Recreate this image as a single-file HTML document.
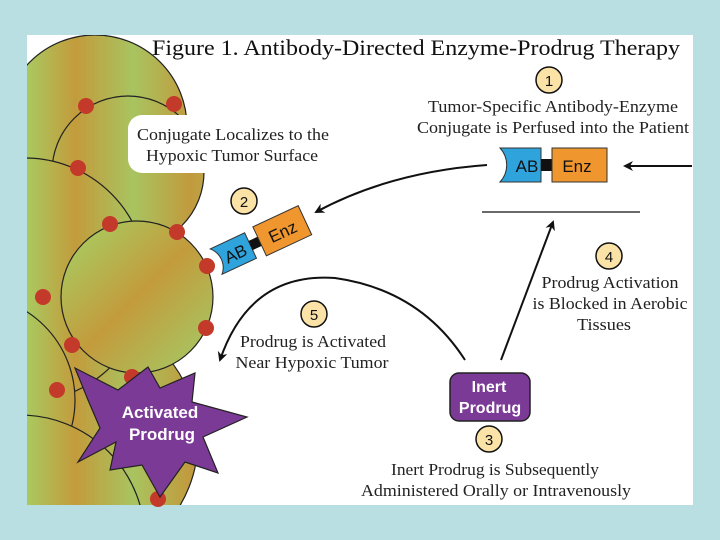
<!DOCTYPE html>
<html><head><style>
html,body{margin:0;width:720px;height:540px;background:#b9dfe3;overflow:hidden}
svg{display:block;overflow:hidden}
.t{font-family:"Liberation Serif",serif;font-size:17px;fill:#222}
.s{font-family:"Liberation Sans",sans-serif;font-weight:bold;fill:#fff}
</style></head><body>
<svg width="720" height="540" viewBox="0 0 720 540">
<defs>
<linearGradient id="g" gradientUnits="userSpaceOnUse" x1="27" y1="0" x2="220" y2="0">
<stop offset="0" stop-color="#a9c95f"/><stop offset="0.25" stop-color="#c39b3c"/><stop offset="0.55" stop-color="#a8c460"/><stop offset="0.85" stop-color="#c29a3d"/><stop offset="1" stop-color="#b5b050"/>
</linearGradient>
<linearGradient id="g2" x1="0" y1="0" x2="1" y2="1">
<stop offset="0.1" stop-color="#a9c95f"/><stop offset="0.5" stop-color="#c39b3c"/><stop offset="0.9" stop-color="#a8c460"/>
</linearGradient>
<marker id="a" markerWidth="10" markerHeight="10" refX="8" refY="5" orient="auto" markerUnits="userSpaceOnUse"><path d="M0,0 L10,5 L0,10 L3,5z" fill="#111"/></marker>
<clipPath id="c"><rect x="27" y="35" width="666" height="470"/></clipPath>
</defs>
<rect x="27" y="35" width="666" height="470" fill="#fff"/>
<g clip-path="url(#c)" stroke="#222" stroke-width="1.2">
<circle cx="70" cy="440" r="128" fill="url(#g)"/>
<circle cx="95" cy="127" r="92" fill="url(#g)"/>
<circle cx="128" cy="172" r="76" fill="url(#g)"/>
<circle cx="25" cy="280" r="122" fill="url(#g)"/>
<circle cx="-30" cy="400" r="105" fill="url(#g)"/>
<circle cx="20" cy="540" r="125" fill="url(#g)"/>
<circle cx="137" cy="297" r="76" fill="url(#g2)"/>
</g>
<g fill="#c33a2a">
<circle cx="86" cy="106" r="8"/><circle cx="174" cy="104" r="8"/><circle cx="78" cy="168" r="8"/>
<circle cx="110" cy="224" r="8"/><circle cx="177" cy="232" r="8"/><circle cx="207" cy="266" r="8"/>
<circle cx="43" cy="297" r="8"/><circle cx="206" cy="328" r="8"/><circle cx="72" cy="345" r="8"/>
<circle cx="132" cy="377" r="8"/>
<circle cx="57" cy="390" r="8"/><circle cx="158" cy="499" r="8"/>
</g>
<path d="M75,368 L118,390 L148,367 L160,388 L195,373 L192,402 L247,417 L203,437 L218,473 L185,462 L160,497 L142,465 L110,470 L116,442 L78,462 L100,428 L88,400 Z" fill="#7b3a96" stroke="#222" stroke-width="1.2"/>
<text class="s" x="160" y="418" font-size="17" text-anchor="middle">Activated</text>
<text class="s" x="162" y="440" font-size="17" text-anchor="middle">Prodrug</text>
<rect x="128" y="115" width="210" height="58" rx="14" fill="#fff"/>
<text class="t" x="233" y="140" text-anchor="middle" textLength="192" lengthAdjust="spacingAndGlyphs">Conjugate Localizes to the</text>
<text class="t" x="232" y="161" text-anchor="middle" textLength="172" lengthAdjust="spacingAndGlyphs">Hypoxic Tumor Surface</text>
<text x="416" y="55" font-family="Liberation Serif,serif" font-size="22" fill="#111" text-anchor="middle" textLength="528" lengthAdjust="spacingAndGlyphs">Figure 1. Antibody-Directed Enzyme-Prodrug Therapy</text>
<g font-family="Liberation Sans,sans-serif" font-size="15" text-anchor="middle" fill="#111">
<circle cx="549" cy="80" r="13" fill="#fbe3a8" stroke="#111" stroke-width="1.5"/><text x="549" y="86">1</text>
<circle cx="244" cy="201" r="13" fill="#fbe3a8" stroke="#111" stroke-width="1.5"/><text x="244" y="207">2</text>
<circle cx="609" cy="256" r="13" fill="#fbe3a8" stroke="#111" stroke-width="1.5"/><text x="609" y="262">4</text>
<circle cx="314" cy="314" r="13" fill="#fbe3a8" stroke="#111" stroke-width="1.5"/><text x="314" y="320">5</text>
<circle cx="489" cy="439" r="13" fill="#fbe3a8" stroke="#111" stroke-width="1.5"/><text x="489" y="445">3</text>
</g>
<text class="t" x="553" y="112" text-anchor="middle" textLength="250" lengthAdjust="spacingAndGlyphs">Tumor-Specific Antibody-Enzyme</text>
<text class="t" x="553" y="133" text-anchor="middle" textLength="272" lengthAdjust="spacingAndGlyphs">Conjugate is Perfused into the Patient</text>
<text class="t" x="610" y="288" text-anchor="middle" textLength="137" lengthAdjust="spacingAndGlyphs">Prodrug Activation</text>
<text class="t" x="610" y="309" text-anchor="middle" textLength="155" lengthAdjust="spacingAndGlyphs">is Blocked in Aerobic</text>
<text class="t" x="604" y="330" text-anchor="middle" textLength="54" lengthAdjust="spacingAndGlyphs">Tissues</text>
<text class="t" x="313" y="347" text-anchor="middle" textLength="146" lengthAdjust="spacingAndGlyphs">Prodrug is Activated</text>
<text class="t" x="312" y="368" text-anchor="middle" textLength="153" lengthAdjust="spacingAndGlyphs">Near Hypoxic Tumor</text>
<text class="t" x="495" y="475" text-anchor="middle" textLength="208" lengthAdjust="spacingAndGlyphs">Inert Prodrug is Subsequently</text>
<text class="t" x="496" y="496" text-anchor="middle" textLength="270" lengthAdjust="spacingAndGlyphs">Administered Orally or Intravenously</text>
<path d="M500,148 H541 V182 H500 A25,25 0 0 0 500,148Z" fill="#2ea3dc" stroke="#333"/>
<rect x="541" y="159" width="11" height="12" fill="#111"/>
<rect x="552" y="148" width="55" height="34" fill="#f0962e" stroke="#333"/>
<text x="527" y="172" font-family="Liberation Sans,sans-serif" font-size="17" fill="#111" text-anchor="middle">AB</text>
<text x="577" y="172" font-family="Liberation Sans,sans-serif" font-size="17" fill="#111" text-anchor="middle">Enz</text>
<g transform="translate(256,243) rotate(-25)">
<path d="M-44,-14 H-6 V14 H-44 A20,20 0 0 0 -44,-14Z" fill="#2ea3dc" stroke="#333"/>
<rect x="-6" y="-5" width="10" height="10" fill="#111"/>
<rect x="4" y="-16" width="50" height="32" fill="#f0962e" stroke="#333"/>
<text x="-23" y="7" font-family="Liberation Sans,sans-serif" font-size="17" fill="#111" text-anchor="middle">AB</text>
<text x="29" y="7" font-family="Liberation Sans,sans-serif" font-size="17" fill="#111" text-anchor="middle">Enz</text>
</g>
<line x1="482" y1="212" x2="640" y2="212" stroke="#111" stroke-width="1.2"/>
<g fill="none" stroke="#111" stroke-width="2">
<line x1="692" y1="166" x2="625" y2="166" marker-end="url(#a)"/>
<path d="M487,165 Q390,172 316,212" marker-end="url(#a)"/>
<path d="M501,360 L553,222" marker-end="url(#a)"/>
<path d="M465,360 Q420,290 335,278 Q250,272 220,360" marker-end="url(#a)"/>
</g>
<rect x="450" y="373" width="80" height="48" rx="9" fill="#7b3a96" stroke="#222" stroke-width="1.5"/>
<text class="s" x="489" y="392" font-size="16" text-anchor="middle">Inert</text>
<text class="s" x="490" y="413" font-size="16" text-anchor="middle">Prodrug</text>
</svg>
</body></html>
